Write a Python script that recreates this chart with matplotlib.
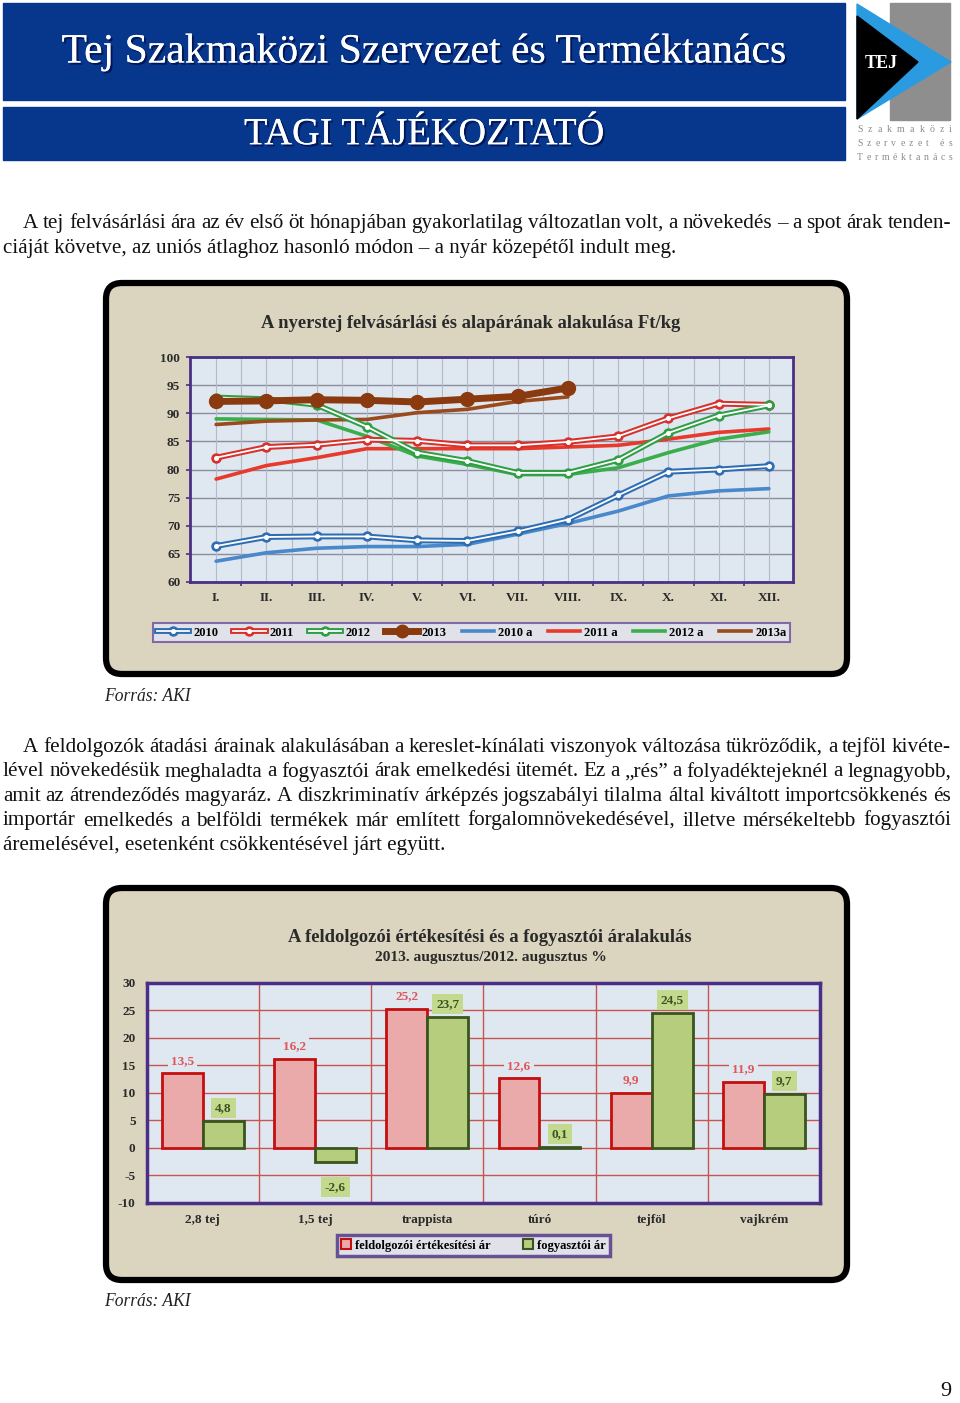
import matplotlib
matplotlib.use('Agg')
import matplotlib.pyplot as plt
import matplotlib.patheffects as pe
from matplotlib.patches import FancyBboxPatch, Rectangle, Polygon, Patch
from matplotlib.lines import Line2D

plt.rcParams['axes.unicode_minus'] = False

# --- adatok ---
months = ['I.', 'II.', 'III.', 'IV.', 'V.', 'VI.', 'VII.', 'VIII.', 'IX.', 'X.', 'XI.', 'XII.']
y2010 = [66.4, 68.0, 68.1, 68.1, 67.4, 67.3, 69.0, 71.1, 75.4, 79.6, 80.0, 80.6]
y2011 = [82.1, 84.0, 84.4, 85.3, 85.1, 84.3, 84.3, 84.9, 85.9, 89.1, 91.7, 91.5]
y2012 = [92.8, 92.5, 91.5, 87.6, 83.0, 81.5, 79.4, 79.4, 81.7, 86.5, 89.6, 91.4]
y2013 = [92.1, 92.2, 92.4, 92.3, 92.0, 92.5, 93.0, 94.5]
y2010a = [63.7, 65.2, 66.0, 66.3, 66.3, 66.7, 68.5, 70.4, 72.6, 75.3, 76.2, 76.6]
y2011a = [78.3, 80.7, 82.1, 83.7, 83.7, 83.7, 83.7, 84.0, 84.3, 85.4, 86.6, 87.2]
y2012a = [89.0, 88.9, 88.8, 85.9, 82.4, 80.9, 79.1, 79.1, 80.3, 83.0, 85.4, 86.7]
y2013a = [88.0, 88.6, 88.8, 88.9, 90.1, 90.7, 92.1, 92.9]

termekek = ['2,8 tej', '1,5 tej', 'trappista', 'túró', 'tejföl', 'vajkrém']
feldolgozoi = [13.5, 16.2, 25.2, 12.6, 9.9, 11.9]
fogyasztoi = [4.8, -2.6, 23.7, 0.1, 24.5, 9.7]

para1 = ['A tej felvásárlási ára az év első öt hónapjában gyakorlatilag változatlan volt, a növekedés – a spot árak tenden-',
         'ciáját követve, az uniós átlaghoz hasonló módon – a nyár közepétől indult meg.']
para2 = ['A feldolgozók átadási árainak alakulásában a kereslet-kínálati viszonyok változása tükröződik, a tejföl kivéte-',
         'lével növekedésük meghaladta a fogyasztói árak emelkedési ütemét. Ez a „rés” a folyadéktejeknél a legnagyobb,',
         'amit az átrendeződés magyaráz. A diszkriminatív árképzés jogszabályi tilalma által kiváltott importcsökkenés és',
         'importár emelkedés a belföldi termékek már említett forgalomnövekedésével, illetve mérsékeltebb fogyasztói',
         'áremelésével, esetenként csökkentésével járt együtt.']

SERIF = 'Liberation Serif'
BLUE = '#07378c'
BEIGE = '#dbd5c0'
PLOTBG = '#dfe7f1'
PURPLE = '#4a2f86'
W, H = 960, 1403

fig = plt.figure(figsize=(9.6, 14.03), dpi=100)
bg = fig.add_axes([0, 0, 1, 1], zorder=0)
bg.set_xlim(0, W)
bg.set_ylim(H, 0)
bg.axis('off')
renderer = fig.canvas.get_renderer()


def px_axes(x0, y0, x1, y1):
    return fig.add_axes([x0 / W, 1 - y1 / H, (x1 - x0) / W, (y1 - y0) / H], zorder=2)


def fit(t, width):
    w = t.get_window_extent(renderer).width
    t.set_fontsize(t.get_fontsize() * width / w)
    return t


def put_tokens(tokens, x0, x1, y, fs, **kw):
    # sorkizárt sor: a szavak közti hézagot elosztjuk
    arts = [bg.text(0, y, tk, fontsize=fs, family=SERIF, va='baseline', ha='left', **kw) for tk in tokens]
    widths = [a.get_window_extent(renderer).width for a in arts]
    gap = (x1 - x0 - sum(widths)) / (len(tokens) - 1)
    x = x0
    for a, w in zip(arts, widths):
        a.set_x(x)
        x += w + gap


# --- fejléc ---
bg.add_patch(Rectangle((3, 3), 842, 97, color=BLUE))
bg.add_patch(Rectangle((3, 107), 842, 53, color=BLUE))
shadow = [pe.withSimplePatchShadow(offset=(1.5, -1.5), shadow_rgbFace='#000033', alpha=0.6), pe.Normal()]
t = bg.text(424, 52, 'Tej Szakmaközi Szervezet és Terméktanács', color='white', family=SERIF,
            ha='center', va='center', fontsize=30, path_effects=shadow)
fit(t, 725)
t = bg.text(424, 135, 'TAGI TÁJÉKOZTATÓ', color='white', family=SERIF,
            ha='center', va='center', fontsize=24, path_effects=shadow)
fit(t, 361)

# logó
bg.add_patch(Rectangle((890, 3), 60, 117, color='#8e8e8e'))
bg.add_patch(Polygon([(857, 4), (951, 62), (857, 119)], color='#2a9be0'))
bg.add_patch(Polygon([(857, 16), (918, 62), (857, 119)], color='black'))
bg.text(881, 63, 'TEJ', color='white', family=SERIF, weight='bold', fontsize=13,
        ha='center', va='center')
for yy, s in zip([132, 146, 160], ['Szakmaközi', 'Szervezet és', 'Terméktanács']):
    put_tokens(list(s), 857, 952, yy, 7, color='#8a8a8a')

# --- szöveg ---
probe = bg.text(0, 0, para1[1], fontsize=10, family=SERIF)
FS = 10 * 673 / probe.get_window_extent(renderer).width
probe.remove()

put_tokens(para1[0].split(' '), 23, 951, 228, FS, color='#111111')
bg.text(3, 252.5, para1[1], fontsize=FS, family=SERIF, va='baseline', ha='left', color='#111111')
for i, line in enumerate(para2):
    x0 = 23 if i == 0 else 3
    yy = 752 + 24.5 * i
    if i < len(para2) - 1:
        put_tokens(line.split(' '), x0, 951, yy, FS, color='#111111')
    else:
        bg.text(x0, yy, line, fontsize=FS, family=SERIF, va='baseline', ha='left', color='#111111')

for yy in [701, 1306]:
    t = bg.text(104, yy, 'Forrás: AKI', family=SERIF, style='italic', fontsize=12,
                va='baseline', ha='left', color='#222222')
    fit(t, 87)
bg.text(946, 1392, '9', family=SERIF, fontsize=16, ha='center', va='center', color='#111111')

# --- keretek ---
for y0, y1 in [(283, 674), (888, 1280)]:
    bg.add_patch(FancyBboxPatch((106, y0), 741, y1 - y0, boxstyle='round,pad=0,rounding_size=16',
                                facecolor=BEIGE, edgecolor='black', lw=4.5))

# ===== 1. ábra =====
t = bg.text(471, 324, 'A nyerstej felvásárlási és alapárának alakulása Ft/kg', family=SERIF,
            weight='bold', fontsize=12, ha='center', va='center', color='#2a2a2a')
fit(t, 417)

ax = px_axes(190, 357, 793, 582)
ax.set_facecolor(PLOTBG)
x = list(range(12))
ax.set_xlim(-0.52, 11.48)
ax.set_ylim(60, 100)
ax.set_yticks(range(60, 101, 5))
for v in range(60, 101, 5):
    ax.axhline(v, color='#8a8d9e', lw=1.0, zorder=1)
for v in [i * 0.5 for i in range(24)]:
    ax.axvline(v, color='#b5bac8', lw=0.8, zorder=1)

c_blue, c_red, c_green, c_brown = '#2f6db3', '#d8302a', '#2f9e44', '#8a3a0e'
a_blue, a_red, a_green, a_brown = '#4a88cc', '#e83a2c', '#3aae4a', '#9a4a1c'

for vals, col in [(y2010a, a_blue), (y2011a, a_red), (y2012a, a_green), (y2013a, a_brown)]:
    ax.plot(x[:len(vals)], vals, color=col, lw=2.6, zorder=3, solid_capstyle='round')

for vals, col in [(y2010, c_blue), (y2011, c_red), (y2012, c_green)]:
    ax.plot(x, vals, color=col, lw=4.2, marker='o', ms=6.5, mfc=col, mec=col, zorder=4)
    ax.plot(x, vals, color='white', lw=1.3, marker='o', ms=2.6, mfc='white', mec='white', zorder=5)
ax.plot(x[:len(y2013)], y2013, color=c_brown, lw=5, marker='o', ms=10, zorder=6)

ax.set_xticks(x)
ax.set_xticklabels(months)
ax.set_xticks([i + 0.5 for i in range(11)], minor=True)
ax.tick_params(axis='x', which='major', length=0, pad=7)
ax.tick_params(axis='x', which='minor', length=3, width=1.2, color=PURPLE, direction='out')
ax.tick_params(axis='y', length=3, width=1.2, color=PURPLE, pad=4)
for lab in ax.get_xticklabels() + ax.get_yticklabels():
    lab.set_family(SERIF)
    lab.set_weight('bold')
    lab.set_fontsize(9.5)
    lab.set_color('#2a2a2a')
for sp in ax.spines.values():
    sp.set_color(PURPLE)
    sp.set_linewidth(2)


def marked(col):
    return (Line2D([], [], color=col, lw=4.2, marker='o', ms=6.5, mfc=col, mec=col),
            Line2D([], [], color='white', lw=1.3, marker='o', ms=2.6, mfc='white', mec='white'))


handles = [marked(c_blue), marked(c_red), marked(c_green),
           Line2D([], [], color=c_brown, lw=5, marker='o', ms=9),
           Line2D([], [], color=a_blue, lw=2.6), Line2D([], [], color=a_red, lw=2.6),
           Line2D([], [], color=a_green, lw=2.6), Line2D([], [], color=a_brown, lw=2.6)]
labels = ['2010', '2011', '2012', '2013', '2010 a', '2011 a', '2012 a', '2013a']
leg = fig.legend(handles, labels, ncol=8, mode='expand', loc='center',
                 bbox_to_anchor=(153 / W, 1 - 645 / H, 637 / W, 25 / H),
                 prop={'family': SERIF, 'weight': 'bold', 'size': 9},
                 handlelength=2.6, handletextpad=0.3, columnspacing=0.8,
                 fancybox=False, borderaxespad=0, borderpad=0.3)
leg.get_frame().set_facecolor('#e3e6f4')
leg.get_frame().set_edgecolor('#6a4c9c')
leg.get_frame().set_linewidth(1.5)
leg.set_zorder(3)

# ===== 2. ábra =====
t = bg.text(490, 938, 'A feldolgozói értékesítési és a fogyasztói áralakulás', family=SERIF,
            weight='bold', fontsize=12, ha='center', va='center', color='#2a2a2a')
fit(t, 400)
t = bg.text(491, 957, '2013. augusztus/2012. augusztus %', family=SERIF,
            weight='bold', fontsize=10, ha='center', va='center', color='#2a2a2a')
fit(t, 232)

bx = px_axes(146.7, 982.7, 820, 1202.7)
bx.set_facecolor(PLOTBG)
bx.set_xlim(-0.5, 5.5)
bx.set_ylim(-10, 30)
bx.set_yticks(range(-10, 31, 5))
for v in range(-5, 30, 5):
    bx.axhline(v, color='#c9544e', lw=1.0, zorder=1)
for v in [i + 0.5 for i in range(5)]:
    bx.axvline(v, color='#c9544e', lw=1.0, zorder=1)

bw = 0.364
xs = list(range(len(termekek)))
bx.bar([i - bw / 2 for i in xs], feldolgozoi, bw, color='#e9aaa9', edgecolor='#c40f0f', lw=2, zorder=3)
bx.bar([i + bw / 2 for i in xs], fogyasztoi, bw, color='#b6cd7d', edgecolor='#3a5420', lw=2, zorder=3)


def fmt(v):
    return f'{v:.1f}'.replace('.', ',')


for i, v in enumerate(feldolgozoi):
    bx.text(i - bw / 2, v + 2.3, fmt(v), ha='center', va='center', family=SERIF, weight='bold',
            fontsize=9.5, color='#e05555', zorder=4,
            bbox=dict(boxstyle='square,pad=0.25', facecolor=PLOTBG, edgecolor='none'))
for i, v in enumerate(fogyasztoi):
    yy = v + 2.4 if v >= 0 else v - 4.5
    bx.text(i + bw / 2, yy, fmt(v), ha='center', va='center', family=SERIF, weight='bold',
            fontsize=9.5, color='#3a5420', zorder=4,
            bbox=dict(boxstyle='square,pad=0.3', facecolor='#c3d98e', edgecolor='none'))

bx.set_xticks(xs)
bx.set_xticklabels(termekek)
bx.tick_params(axis='x', length=0, pad=8)
bx.tick_params(axis='y', length=0, pad=8)
for lab in bx.get_xticklabels() + bx.get_yticklabels():
    lab.set_family(SERIF)
    lab.set_weight('bold')
    lab.set_fontsize(9.5)
    lab.set_color('#2a2a2a')
for sp in bx.spines.values():
    sp.set_color(PURPLE)
    sp.set_linewidth(2.5)

h2 = [Patch(facecolor='#e9aaa9', edgecolor='#c40f0f', lw=1.5),
      Patch(facecolor='#b6cd7d', edgecolor='#3a5420', lw=1.5)]
leg2 = fig.legend(h2, ['feldolgozói értékesítési ár', 'fogyasztói ár'], ncol=2, loc='center',
                  bbox_to_anchor=(337 / W, 1 - 1258 / H, 273 / W, 25 / H), mode='expand',
                  prop={'family': SERIF, 'weight': 'bold', 'size': 9},
                  handlelength=0.8, handleheight=0.8, handletextpad=0.3, columnspacing=1.2,
                  fancybox=False, borderaxespad=0, borderpad=0.35)
leg2.get_frame().set_facecolor('#e3e6f4')
leg2.get_frame().set_edgecolor(PURPLE)
leg2.get_frame().set_linewidth(2.5)

fig.savefig('out.png', dpi=100)
